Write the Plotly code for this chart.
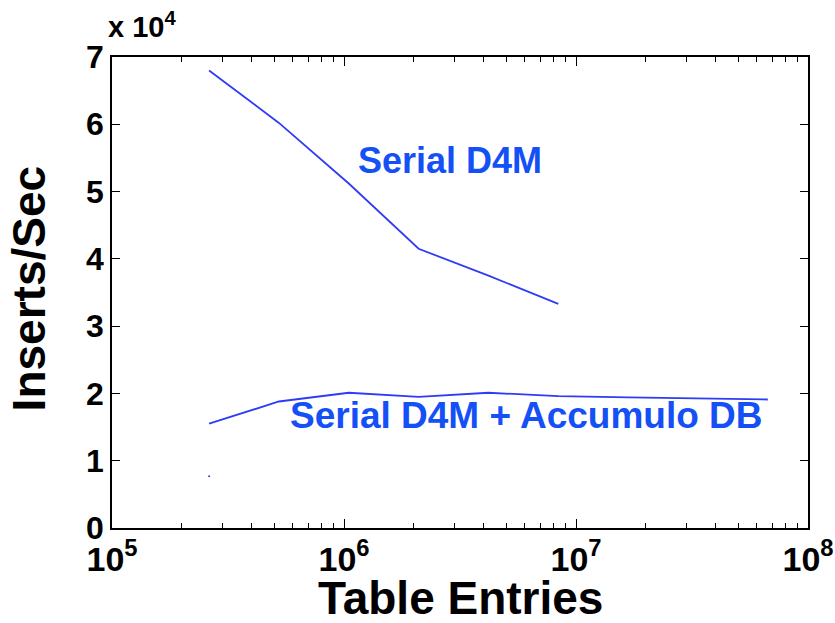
import plotly.graph_objects as go

# Data
entries_d4m = [2**18, 2**19, 2**20, 2**21, 2**22, 2**23]
rate_d4m = [68000, 60200, 51200, 41500, 37500, 33300]

entries_acc = [2**18, 2**19, 2**20, 2**21, 2**22, 2**23, 2**24, 2**25, 2**26]
rate_acc = [15500, 18800, 20100, 19500, 20100, 19600, 19400, 19300, 19100]

entries_dot = [2**18]
rate_dot = [7700]

x_tickvals = [1e5, 1e6, 1e7, 1e8]
x_ticktext = ["<b>10<sup>5</sup></b>", "<b>10<sup>6</sup></b>", "<b>10<sup>7</sup></b>", "<b>10<sup>8</sup></b>"]
x_minor = [m * 10**e for e in (5, 6, 7) for m in range(2, 10)]
y_tickvals = [0, 10000, 20000, 30000, 40000, 50000, 60000, 70000]
y_ticktext = ["<b>%d</b>" % (v // 10000) for v in y_tickvals]

blue = "#2f3cf5"
label_blue = "#1450f5"
font_family = "Liberation Sans, Arial, sans-serif"

fig = go.Figure()
fig.add_trace(go.Scatter(x=entries_d4m, y=rate_d4m, mode="lines",
                         line=dict(color=blue, width=1.8), showlegend=False))
fig.add_trace(go.Scatter(x=entries_acc, y=rate_acc, mode="lines",
                         line=dict(color=blue, width=1.8), showlegend=False))
fig.add_trace(go.Scatter(x=entries_dot, y=rate_dot, mode="markers",
                         marker=dict(color=blue, size=2), showlegend=False))

fig.update_layout(
    width=835, height=623,
    margin=dict(l=112, r=27, t=57, b=95),
    paper_bgcolor="white", plot_bgcolor="white",
    font=dict(family=font_family, color="black"),
    xaxis=dict(type="log", range=[5, 8], tickmode="array", tickvals=x_tickvals, ticktext=x_ticktext,
               automargin=False,
               ticks="inside", ticklen=9, tickwidth=1, tickcolor="black",
               showline=True, linecolor="black", linewidth=1.5, mirror="ticks",
               showgrid=False, zeroline=False,
               tickfont=dict(size=34, family=font_family),
               minor=dict(tickmode="array", tickvals=x_minor, ticks="inside", ticklen=5,
                          tickcolor="black", showgrid=False)),
    yaxis=dict(range=[0, 70000], tickvals=y_tickvals, ticktext=y_ticktext,
               automargin=False,
               ticks="inside", ticklen=8, tickwidth=1, tickcolor="black",
               showline=True, linecolor="black", linewidth=1.5, mirror="ticks",
               showgrid=False, zeroline=False,
               tickfont=dict(size=32, family=font_family)),
    annotations=[
        dict(x=0.5, y=-0.149, xref="paper", yref="paper", xanchor="center", yanchor="middle",
             text="<b>Table Entries</b>", showarrow=False, font=dict(size=46)),
        dict(x=-0.119, y=0.507, xref="paper", yref="paper", xanchor="center", yanchor="middle",
             text="<b>Inserts/Sec</b>", showarrow=False, textangle=-90, font=dict(size=46)),
        dict(x=0.0, y=1.0, xref="paper", yref="paper", xanchor="left", yanchor="bottom",
             text="<b>x 10<sup>4</sup></b>", showarrow=False, font=dict(size=29), xshift=-6, yshift=12),
        dict(x=0.486, y=0.781, xref="paper", yref="paper", xanchor="center", yanchor="middle",
             text="<b>Serial D4M</b>",
             showarrow=False, font=dict(size=36, color=label_blue)),
        dict(x=0.596, y=0.238, xref="paper", yref="paper", xanchor="center", yanchor="middle",
             text="<b>Serial D4M + Accumulo DB</b>",
             showarrow=False, font=dict(size=37, color=label_blue)),
    ],
)

fig.write_html("out.html")
